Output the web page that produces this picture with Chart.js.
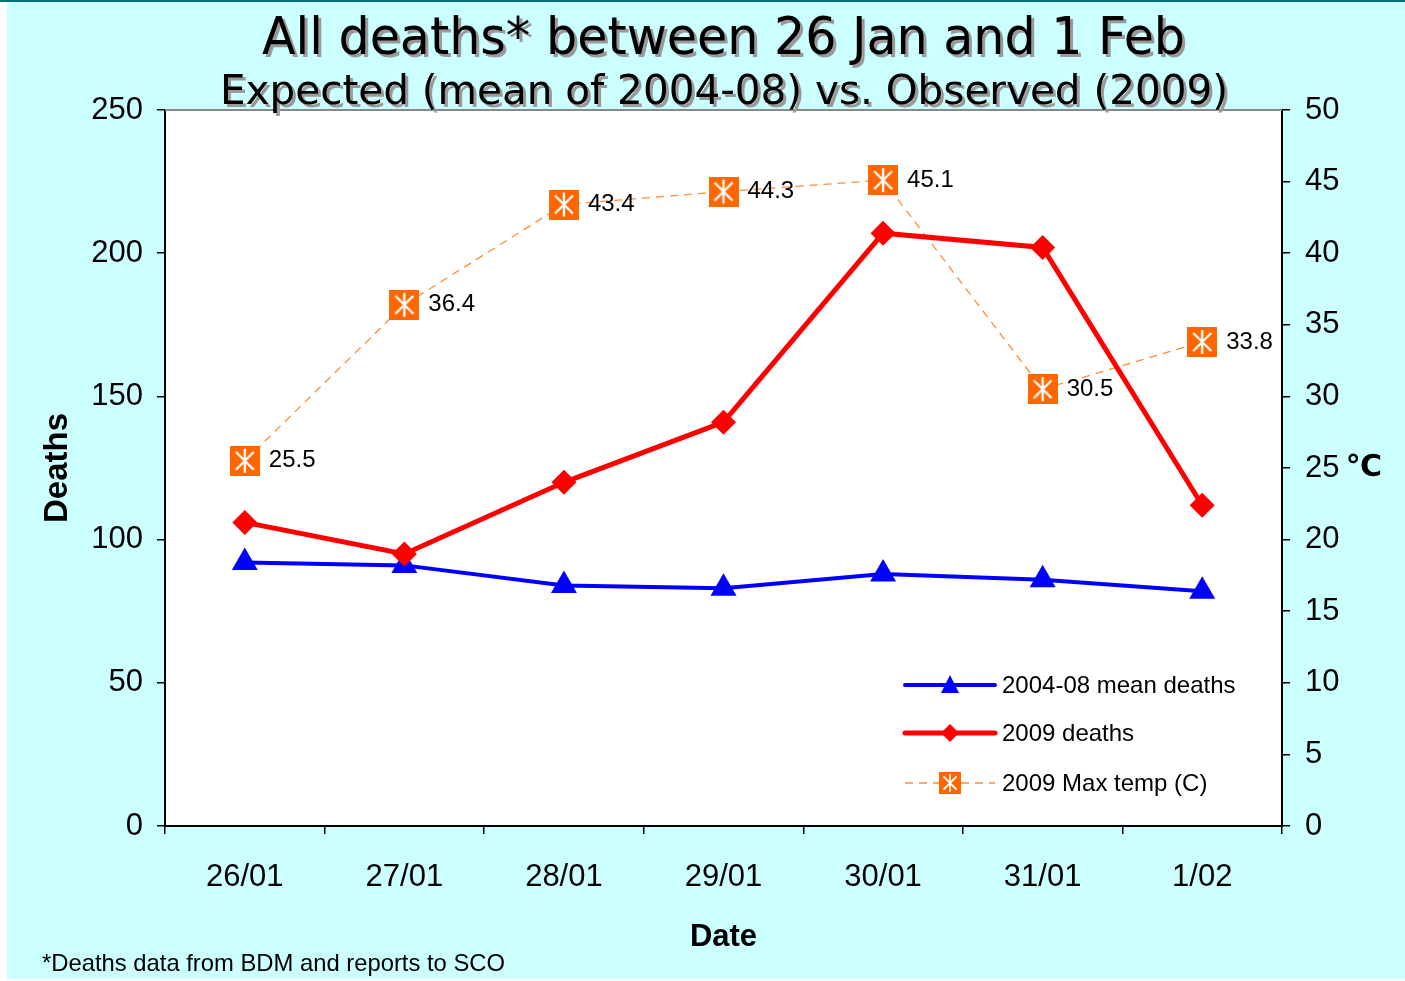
<!DOCTYPE html>
<html>
<head>
<meta charset="utf-8">
<script src="https://cdn.jsdelivr.net/npm/chart.js@4.4.1/dist/chart.umd.min.js"></script>
<style>
html,body{margin:0;padding:0;background:#fff;}
canvas{display:block;}
</style>
</head>
<body>
<canvas id="c" width="1405" height="981" style="width:1405px;height:981px"></canvas>
<script>
const categories = ['26/01','27/01','28/01','29/01','30/01','31/01','1/02'];
const meanDeaths = [92, 91, 84, 83, 88, 86, 82];
const deaths2009 = [106, 95, 120, 141, 207, 202, 112];
const maxTemp = [25.5, 36.4, 43.4, 44.3, 45.1, 30.5, 33.8];
const seriesNames = ['2004-08 mean deaths', '2009 deaths', '2009 Max temp (C)'];
const titleText = 'All deaths* between 26 Jan and 1 Feb';
const subtitleText = 'Expected (mean of 2004-08) vs. Observed (2009)';
const footnoteText = '*Deaths data from BDM and reports to SCO';

const BLUE = '#0000FF', RED = '#FF0000', ORANGE = '#FF6600', DASH = '#FF8C3A';
const TXT = "'Liberation Sans', Arial, sans-serif";

function makeMarker(s) {
  const c = document.createElement('canvas');
  c.width = s; c.height = s;
  const g = c.getContext('2d');
  g.fillStyle = ORANGE; g.fillRect(0, 0, s, s);
  g.strokeStyle = '#fff'; g.lineWidth = Math.max(1.6, s / 13);
  const m = s / 2;
  g.beginPath();
  g.moveTo(m, s * 0.1); g.lineTo(m, s * 0.9);
  g.moveTo(s * 0.2, s * 0.2); g.lineTo(s * 0.8, s * 0.8);
  g.moveTo(s * 0.8, s * 0.2); g.lineTo(s * 0.2, s * 0.8);
  g.stroke();
  return c;
}
const marker = makeMarker(30);
const legendMarker = makeMarker(22);

function drawFitted(ctx, text, font, cx, baseline, width, color, shadow) {
  ctx.save();
  ctx.font = font;
  const w = ctx.measureText(text).width;
  const sx = width / w;
  ctx.textAlign = 'center';
  ctx.textBaseline = 'alphabetic';
  ctx.translate(cx, baseline);
  ctx.scale(sx, 1);
  if (shadow) {
    ctx.fillStyle = '#9a9a9a';
    ctx.fillText(text, 3 / sx, 3);
  }
  ctx.fillStyle = color;
  ctx.fillText(text, 0, 0);
  ctx.restore();
}

const decor = {
  id: 'decor',
  beforeDraw(chart) {
    const ctx = chart.ctx, a = chart.chartArea;
    ctx.save();
    ctx.fillStyle = '#ffffff';
    ctx.fillRect(0, 0, chart.width, chart.height);
    ctx.fillStyle = '#CCFFFF';
    ctx.fillRect(7, 0, chart.width - 7, chart.height - 2);
    ctx.fillStyle = '#0B6C82';
    ctx.fillRect(0, 0, chart.width, 2);
    ctx.fillStyle = '#ffffff';
    ctx.fillRect(a.left, a.top, a.right - a.left, a.bottom - a.top);
    ctx.restore();
  },
  afterDraw(chart) {
    const ctx = chart.ctx, a = chart.chartArea;
    ctx.save();
    ctx.strokeStyle = '#888888'; ctx.lineWidth = 2;
    ctx.beginPath(); ctx.moveTo(a.left, a.top); ctx.lineTo(a.right, a.top); ctx.stroke();
    drawFitted(ctx, titleText, "52px 'DejaVu Sans', Verdana, sans-serif", 723.5, 54, 923, '#000', true);
    drawFitted(ctx, subtitleText, "41px 'DejaVu Sans', Verdana, sans-serif", 724, 104, 1008, '#000', true);
    ctx.font = '24px ' + TXT;
    const fw = ctx.measureText(footnoteText).width;
    ctx.save();
    ctx.translate(42, 971); ctx.scale(463 / fw, 1);
    ctx.fillStyle = '#000'; ctx.textBaseline = 'alphabetic'; ctx.textAlign = 'left';
    ctx.fillText(footnoteText, 0, 0);
    ctx.restore();
    ctx.font = "bold 30px 'DejaVu Sans', sans-serif";
    ctx.fillStyle = '#000'; ctx.textAlign = 'center'; ctx.textBaseline = 'middle';
    ctx.fillText('\u2103', 1364, 468);
    const lx0 = 905, lx1 = 995, mx = 950, tx = 1002;
    const rows = [685, 733, 783];
    ctx.textAlign = 'left'; ctx.textBaseline = 'middle';
    ctx.strokeStyle = BLUE; ctx.lineWidth = 4; ctx.lineCap = 'round'; ctx.setLineDash([]);
    ctx.beginPath(); ctx.moveTo(lx0, rows[0]); ctx.lineTo(lx1, rows[0]); ctx.stroke();
    ctx.fillStyle = BLUE;
    ctx.beginPath(); ctx.moveTo(mx, rows[0] - 10); ctx.lineTo(mx + 9, rows[0] + 8); ctx.lineTo(mx - 9, rows[0] + 8); ctx.closePath(); ctx.fill();
    ctx.strokeStyle = RED; ctx.lineWidth = 5;
    ctx.beginPath(); ctx.moveTo(lx0, rows[1]); ctx.lineTo(lx1, rows[1]); ctx.stroke();
    ctx.fillStyle = RED;
    ctx.beginPath(); ctx.moveTo(mx, rows[1] - 9); ctx.lineTo(mx + 9, rows[1]); ctx.lineTo(mx, rows[1] + 9); ctx.lineTo(mx - 9, rows[1]); ctx.closePath(); ctx.fill();
    ctx.strokeStyle = DASH; ctx.lineWidth = 1.3; ctx.lineCap = 'butt'; ctx.setLineDash([8, 6]);
    ctx.beginPath(); ctx.moveTo(lx0, rows[2]); ctx.lineTo(lx1, rows[2]); ctx.stroke();
    ctx.setLineDash([]);
    ctx.drawImage(legendMarker, mx - 11, rows[2] - 11);
    ctx.fillStyle = '#000'; ctx.font = '24px ' + TXT;
    seriesNames.forEach((n, i) => ctx.fillText(n, tx, rows[i] + 1));
    ctx.restore();
  }
};

const valueLabels = {
  id: 'valueLabels',
  afterDatasetsDraw(chart) {
    const ctx = chart.ctx;
    const idx = chart.data.datasets.findIndex(d => d.yAxisID === 'y2');
    const meta = chart.getDatasetMeta(idx);
    ctx.save();
    ctx.font = '24px ' + TXT;
    ctx.fillStyle = '#000'; ctx.textAlign = 'left'; ctx.textBaseline = 'middle';
    meta.data.forEach((pt, i) => {
      ctx.fillText(maxTemp[i].toFixed(1), pt.x + 24, pt.y);
    });
    ctx.restore();
  }
};

new Chart(document.getElementById('c'), {
  type: 'line',
  data: {
    labels: categories,
    datasets: [
      {
        label: seriesNames[0], data: meanDeaths, yAxisID: 'y', order: 1,
        borderColor: BLUE, backgroundColor: BLUE, borderWidth: 4,
        pointStyle: 'triangle', pointRadius: 15, pointBorderWidth: 0, tension: 0
      },
      {
        label: seriesNames[1], data: deaths2009, yAxisID: 'y', order: 0,
        borderColor: RED, backgroundColor: RED, borderWidth: 5,
        pointStyle: 'rectRot', pointRadius: 12.5, pointBorderWidth: 0, tension: 0
      },
      {
        label: seriesNames[2], data: maxTemp, yAxisID: 'y2', order: 2,
        borderColor: DASH, backgroundColor: ORANGE, borderWidth: 1.3, borderDash: [8, 6],
        pointStyle: marker, pointRadius: 15, tension: 0
      }
    ]
  },
  options: {
    responsive: false,
    animation: false,
    devicePixelRatio: 1,
    layout: { padding: { top: 110, left: 0, right: 0, bottom: 0 } },
    plugins: { legend: { display: false }, tooltip: { enabled: false }, title: { display: false } },
    scales: {
      x: {
        type: 'category', offset: true,
        grid: { offset: true, drawOnChartArea: false, drawTicks: true, tickLength: 8, color: '#000', lineWidth: 1.5 },
        border: { display: true, color: '#000', width: 2 },
        ticks: { color: '#000', font: { family: TXT, size: 31 }, padding: 25, autoSkip: false, maxRotation: 0 },
        title: { display: true, text: 'Date', color: '#000', font: { family: TXT, size: 31, weight: 'bold' }, padding: { top: 0, bottom: 25 } },
        afterFit(s) { s.height = 155; }
      },
      y: {
        position: 'left', min: 0, max: 250,
        grid: { drawOnChartArea: false, drawTicks: true, tickLength: 8, color: '#000', lineWidth: 1.5 },
        border: { display: true, color: '#000', width: 2 },
        ticks: { stepSize: 50, color: '#000', font: { family: TXT, size: 31 }, padding: 14 },
        title: { display: true, text: 'Deaths', color: '#000', font: { family: TXT, size: 33, weight: 'bold' }, padding: { top: 38, bottom: 0 } },
        afterFit(s) { s.width = 165; }
      },
      y2: {
        position: 'right', min: 0, max: 50,
        grid: { drawOnChartArea: false, drawTicks: true, tickLength: 8, color: '#000', lineWidth: 1.5 },
        border: { display: true, color: '#000', width: 2 },
        ticks: { stepSize: 5, color: '#000', font: { family: TXT, size: 31 }, padding: 15 },
        afterFit(s) { s.width = 123; }
      }
    }
  },
  plugins: [decor, valueLabels]
});
</script>
</body>
</html>
